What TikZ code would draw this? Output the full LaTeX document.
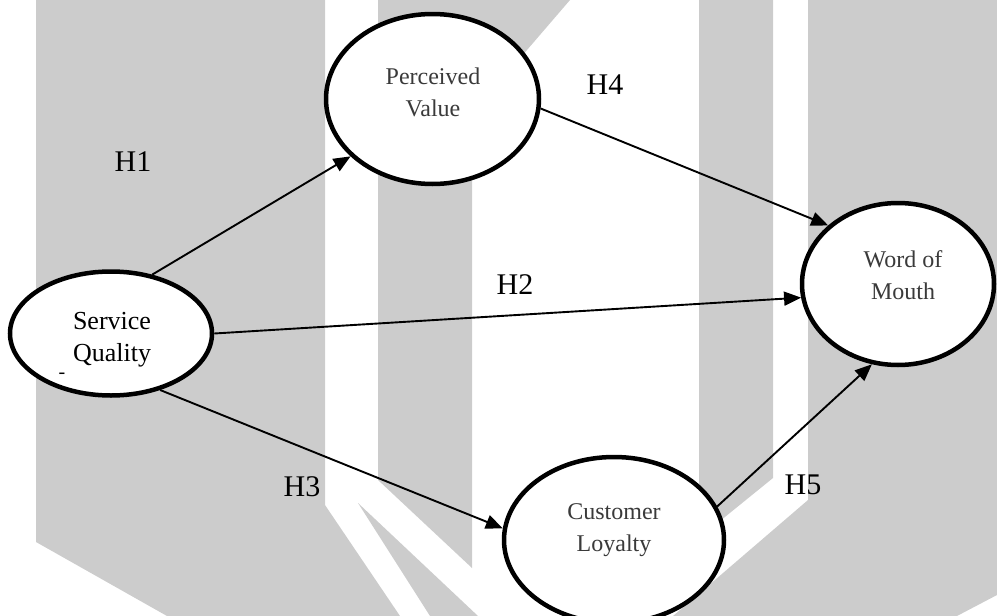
\documentclass[tikz,border=0pt]{standalone}
\usepackage{fontspec}
\setmainfont{Liberation Serif}
\usetikzlibrary{arrows.meta,shapes.geometric}
\definecolor{bandgray}{HTML}{CCCCCC}
\definecolor{softink}{HTML}{3A3A3A}
\begin{document}
\begin{tikzpicture}[x=1pt,y=-1pt,
  construct/.style={ellipse, draw=black, line width=4.5pt, fill=white, inner sep=0pt},
  caption/.style={font=\fontsize{24}{32}\selectfont, text=softink, align=center, inner sep=0pt},
  hyp/.style={font=\fontsize{30}{36}\selectfont, inner sep=0pt},
  link/.style={line width=1.9pt, -{Triangle[length=17pt,width=14pt]}}]
\useasboundingbox (0,0) rectangle (997,616);
\clip (0,0) rectangle (997,616);

% background watermark bands
\fill[bandgray] (36,0) -- (325,0) -- (325,505) -- (400,616) -- (167,616) -- (36,542) -- cycle;
\fill[bandgray] (358,503) -- (478,616) -- (430,616) -- cycle;
\fill[bandgray] (378,0) -- (570,0) -- (472,114) -- (472,568) -- (378,480) -- cycle;
\fill[bandgray] (699,0) -- (773,0) -- (773,478) -- (699,538) -- cycle;
\fill[bandgray] (808,0) -- (997,0) -- (997,595) -- (957,616) -- (673,616) -- (808,500) -- cycle;

% constructs
\node[construct, minimum width=202pt, minimum height=124pt] (sq) at (111,333.5) {};
\node[construct, minimum width=213pt, minimum height=170pt] (pv) at (432.5,99) {};
\node[construct, minimum width=192pt, minimum height=162pt] (wm) at (898,284) {};
\node[construct, minimum width=220pt, minimum height=166pt] (cl) at (614,540) {};

\node[caption, text=black, font=\fontsize{26}{32}\selectfont] (sqtext) at (112,340) {Service\\Quality};
\node[font=\fontsize{20}{22}\selectfont, inner sep=0pt] (sqdash) at (62,376) {-};
\node[caption] (pvtext) at (433,92) {Perceived\\Value};
\node[caption] (wmtext) at (903,275.5) {Word of\\Mouth};
\node[caption] (cltext) at (614,530.5) {Customer\\Loyalty};

% hypotheses
\draw[link] (sq.55) -- (pv.215);
\draw[link] (sq.0) -- (wm.188);
\draw[link] (sq.311) -- (cl.174);
\draw[link] (pv.355) -- (wm.140);
\draw[link] (cl.18) -- (wm.252);

\node[hyp] (h1) at (133,162) {H1};
\node[hyp] (h2) at (515,285) {H2};
\node[hyp] (h3) at (302,487) {H3};
\node[hyp] (h4) at (605,85) {H4};
\node[hyp] (h5) at (803,485) {H5};
\end{tikzpicture}
\end{document}
